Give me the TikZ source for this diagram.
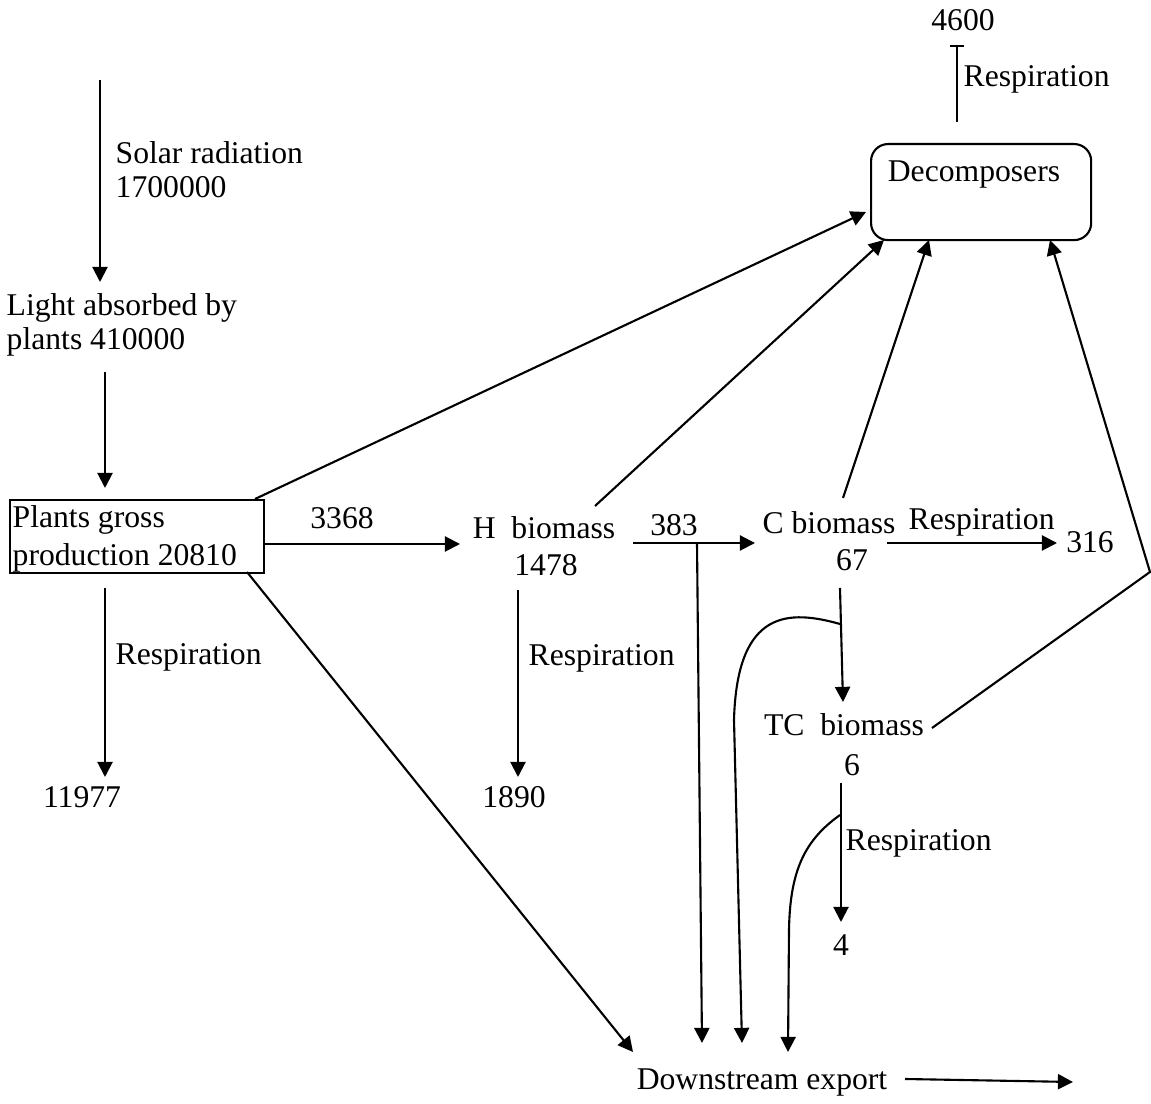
\documentclass[tikz,border=0pt]{standalone}
\usepackage{fontspec}
\setmainfont{Liberation Serif}
\usetikzlibrary{arrows.meta}
\begin{document}
\begin{tikzpicture}[x=0.01cm,y=-0.01cm,
  txt/.style={inner sep=0pt, font=\fontsize{9}{9.6}\selectfont, align=left},
  arr/.style={line width=0.6pt, -{Triangle[length=4.3pt,width=4.3pt]}},
  ln/.style={line width=0.6pt},
  boxnode/.style={draw, line width=0.6pt, inner sep=0pt, anchor=north west}]
\path[use as bounding box] (0,0) rectangle (1151,1104);

% ---------- text nodes ----------
\node[txt] (n4600) at (963,20) {4600};
\node[txt, anchor=west] (decresp) at (963,79) {Respiration};
\node[boxnode, rounded corners=0.17cm, minimum width=2.2cm, minimum height=0.96cm] (dec) at (870,143) {};
\node[txt] (dectext) at (974,175) {Decomposers};

\node[txt, anchor=west] (solar) at (115,170) {Solar radiation\\1700000};
\node[txt, anchor=west] (light) at (6,325) {Light absorbed by\\plants 410000};

\node[boxnode, minimum width=2.54cm, minimum height=0.73cm] (plants) at (9,499) {};
\node[txt, anchor=west, font=\fontsize{9}{10.6}\selectfont] (plantstext) at (12,539) {Plants gross\\production 20810};

\node[txt] (n3368) at (342,518) {3368};
\node[txt] (hb) at (544,528) {H\ \ biomass};
\node[txt] (n1478) at (546,565) {1478};
\node[txt] (n383) at (674,525) {383};
\node[txt] (cb) at (829,523) {C biomass};
\node[txt] (n67) at (852,560) {67};
\node[txt, anchor=west] (cresp) at (908,522) {Respiration};
\node[txt] (n316) at (1090,542) {316};

\node[txt, anchor=west] (plresp) at (115,657) {Respiration};
\node[txt] (n11977) at (82,797) {11977};
\node[txt, anchor=west] (hresp) at (528,658) {Respiration};
\node[txt] (n1890) at (514,797) {1890};

\node[txt] (tc) at (844,725) {TC\ \ biomass};
\node[txt] (n6) at (852,765) {6};
\node[txt, anchor=west] (tcresp) at (845,843) {Respiration};
\node[txt] (n4) at (841,945) {4};

\node[txt] (down) at (762,1083) {Downstream export};

% ---------- connector end points ----------
\coordinate (solarA) at (100,80);   \coordinate (solarB) at (100,282);
\coordinate (lightA) at (105,372);  \coordinate (lightB) at (105,488);
\coordinate (plE)    at (263,544);  \coordinate (hbW)    at (460,544);
\coordinate (plS)    at (105,588);  \coordinate (plR)    at (105,777);
\coordinate (hbE)    at (633,543);  \coordinate (cbW)    at (755,543);
\coordinate (hbS)    at (518,590);  \coordinate (hR)     at (518,777);
\coordinate (cbE)    at (887,543);  \coordinate (cR)     at (1057,543);
\coordinate (cbS)    at (840,588);  \coordinate (tcN)    at (843,702);
\coordinate (tcS)    at (841,783);  \coordinate (tcR)    at (841,922);
\coordinate (jH)     at (697,543);  \coordinate (dA)     at (702,1043);
\coordinate (jC)     at (840,624);  \coordinate (dB)     at (742,1043);
\coordinate (jT)     at (840,815);  \coordinate (dC)     at (788,1052);
\coordinate (plSE)   at (247,572);  \coordinate (dD)     at (633,1052);
\coordinate (downE)  at (905,1079); \coordinate (exp)    at (1073,1082);
\coordinate (plNE)   at (255,499);  \coordinate (decA)   at (866,212);
\coordinate (hbNE)   at (595,506);  \coordinate (decB)   at (884,240);
\coordinate (cbN)    at (843,498);  \coordinate (decC)   at (929,240);
\coordinate (tcE)    at (932,728);  \coordinate (bend)   at (1150,572);
\coordinate (decD)   at (1050,240);
\coordinate (decN)   at (957,122);  \coordinate (decR)   at (957,45);

% ---------- connectors ----------
\draw[arr] (solarA) -- (solarB);
\draw[arr] (lightA) -- (lightB);
\draw[arr] (plE) -- (hbW);
\draw[arr] (plS) -- (plR);
\draw[arr] (hbE) -- (cbW);
\draw[arr] (hbS) -- (hR);
\draw[arr] (cbE) -- (cR);
\draw[arr] (cbS) -- (tcN);
\draw[arr] (tcS) -- (tcR);
\draw[arr] (jH) -- (dA);
\draw[arr] (jC) .. controls (790,610) and (737,608) .. (734,720) -- (dB);
\draw[arr] (jT) .. controls (805,840) and (790,870) .. (789,930) -- (dC);
\draw[arr] (plSE) -- (dD);
\draw[arr] (downE) -- (exp);
\draw[arr] (plNE) -- (decA);
\draw[arr] (hbNE) -- (decB);
\draw[arr] (cbN) -- (decC);
\draw[arr] (tcE) -- (bend) -- (decD);
\draw[ln, -{Bar[width=3.8pt]}] (decN) -- (decR);
\end{tikzpicture}
\end{document}
